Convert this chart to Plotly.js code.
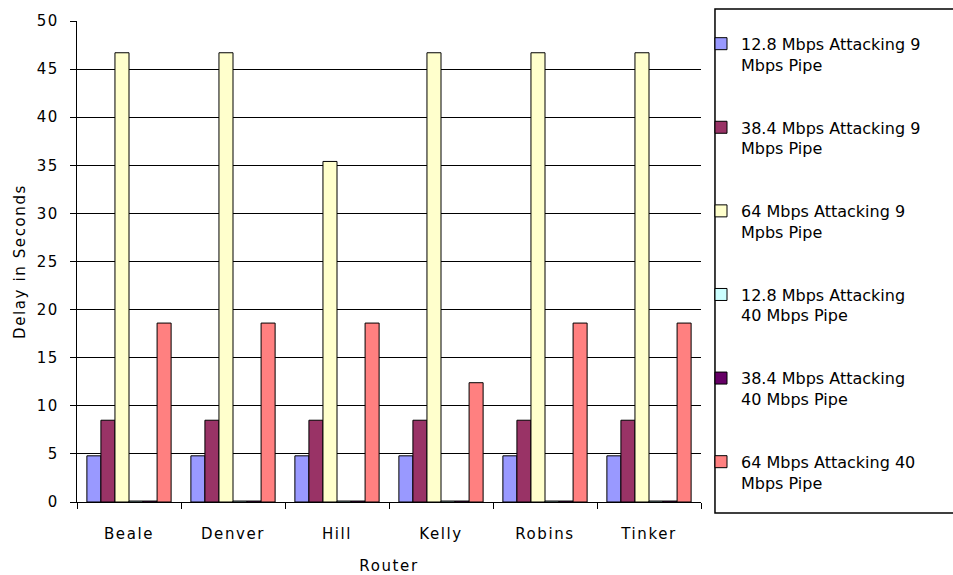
<!DOCTYPE html>
<html>
<head>
<meta charset="utf-8">
<script src="https://cdn.plot.ly/plotly-3.0.1.min.js"></script>
<style>
html,body{margin:0;padding:0;background:#fff;}
#chart{width:953px;height:575px;}
#chart svg .xtick text, #chart svg .ytick text, #chart svg .g-xtitle text, #chart svg .g-ytitle text{letter-spacing:1.6px;}
</style>
</head>
<body>
<div id="chart"></div>
<script>
const routers = ["Beale", "Denver", "Hill", "Kelly", "Robins", "Tinker"];
const seriesNames = [
  "12.8 Mbps Attacking 9<br>Mbps Pipe",
  "38.4 Mbps Attacking 9<br>Mbps Pipe",
  "64 Mbps Attacking 9<br>Mpbs Pipe",
  "12.8 Mbps Attacking<br>40 Mbps Pipe",
  "38.4 Mbps Attacking<br>40 Mbps Pipe",
  "64 Mbps Attacking 40<br>Mbps Pipe"
];
const s128_9 = [4.8, 4.8, 4.8, 4.8, 4.8, 4.8];
const s384_9 = [8.5, 8.5, 8.5, 8.5, 8.5, 8.5];
const s64_9 = [46.7, 46.7, 35.4, 46.7, 46.7, 46.7];
const s128_40 = [0.1, 0.1, 0.1, 0.1, 0.1, 0.1];
const s384_40 = [0.1, 0.1, 0.1, 0.1, 0.1, 0.1];
const s64_40 = [18.6, 18.6, 18.6, 12.4, 18.6, 18.6];
const seriesValues = [s128_9, s384_9, s64_9, s128_40, s384_40, s64_40];
const colors = ["#9999FF", "#993366", "#FFFFCC", "#CCFFFF", "#660066", "#FF8080"];

const FONT = "DejaVu Sans, Liberation Sans, Arial, sans-serif";

const traces = seriesValues.map((vals, i) => ({
  type: "bar",
  x: routers,
  y: vals,
  name: seriesNames[i],
  legendgroup: "g" + i,
  marker: {color: colors[i], line: {color: "#000", width: 1}},
  hoverinfo: "x+y"
}));

const layout = {
  width: 953, height: 575,
  margin: {l: 77, r: 252, t: 21, b: 73},
  paper_bgcolor: "#fff", plot_bgcolor: "#fff",
  font: {family: FONT, size: 14, color: "#000"},
  barmode: "group",
  bargap: 0.19, bargroupgap: 0,
  showlegend: true,
  legend: {
    x: 1.0, xanchor: "left",
    y: 0.988, yanchor: "top",
    bgcolor: "rgba(0,0,0,0)",
    borderwidth: 0,
    font: {family: FONT, size: 16, color: "#000"},
    tracegroupgap: 39,
    valign: "top",
    traceorder: "grouped"
  },
  xaxis: {
    type: "category",
    showline: true, linecolor: "#000", linewidth: 1,
    ticks: "outside", tickson: "boundaries", ticklen: 6, tickcolor: "#000",
    ticklabelstandoff: 18,
    showgrid: false, zeroline: false,
    tickfont: {family: FONT, size: 15},
    title: {text: "Router", font: {family: FONT, size: 15}, standoff: 19}
  },
  yaxis: {
    range: [0, 50], dtick: 5, tick0: 0,
    showline: true, linecolor: "#000", linewidth: 1,
    ticks: "outside", ticklen: 6, tickcolor: "#000",
    ticklabelstandoff: 8,
    showgrid: true, gridcolor: "#000", gridwidth: 1,
    zeroline: false,
    tickfont: {family: FONT, size: 15},
    title: {text: "Delay in Seconds", font: {family: FONT, size: 15}, standoff: 10}
  },
  shapes: [{
    type: "rect", xref: "paper", yref: "paper",
    x0: 1.0224, x1: 1.41, y0: -0.0229, y1: 1.025,
    line: {color: "#000", width: 1.5}, fillcolor: "rgba(0,0,0,0)", layer: "below"
  }]
};

Plotly.newPlot("chart", traces, layout, {displayModeBar: false, staticPlot: true});
</script>
</body>
</html>
